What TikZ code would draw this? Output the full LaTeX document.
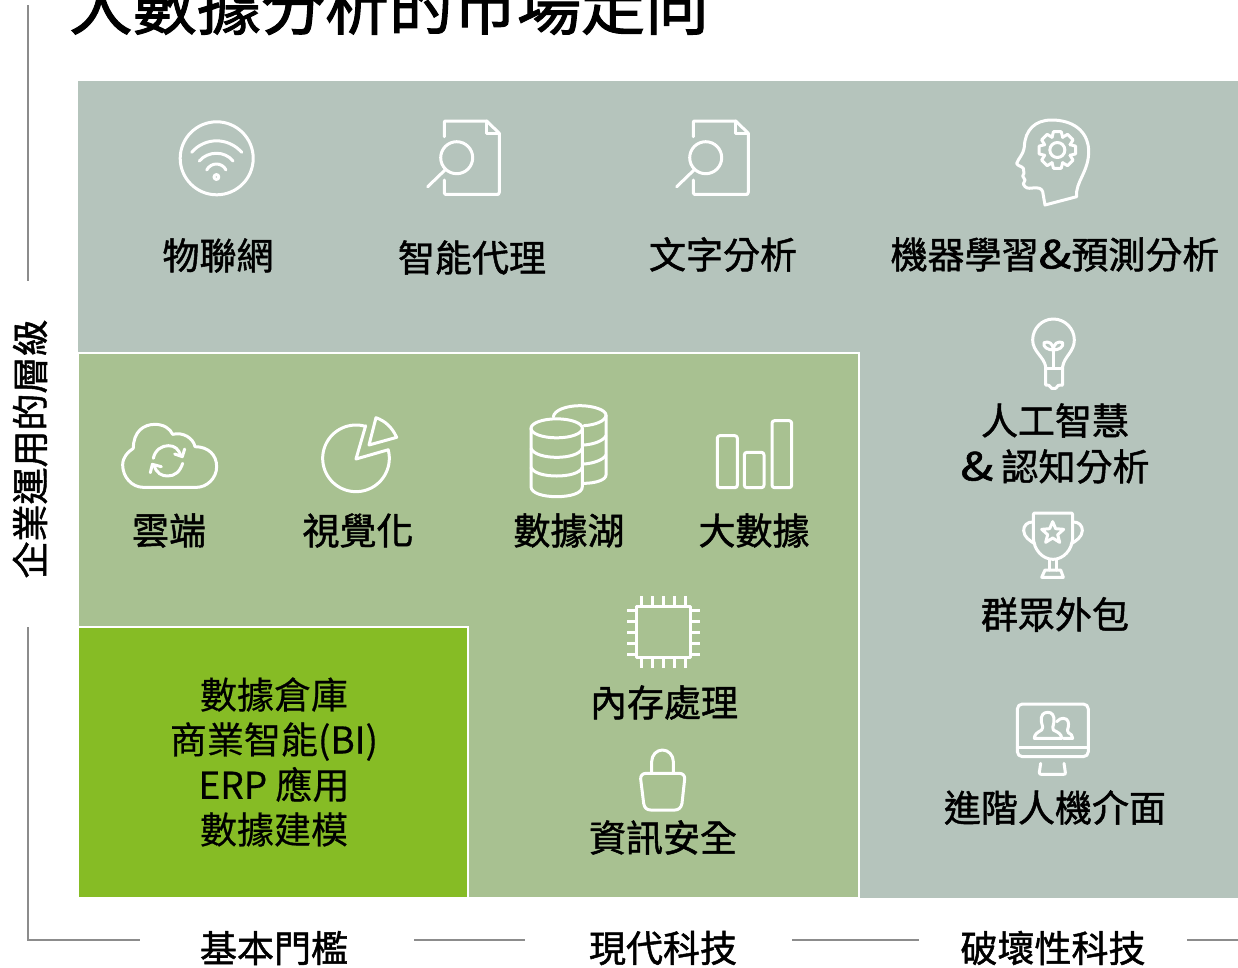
\documentclass[tikz,border=0pt]{standalone}
\usepackage{fontspec}
\setmainfont{Noto Sans CJK TC}
\newfontfamily\lblfont[FakeBold=1.3]{Noto Sans CJK TC}
\newfontfamily\ttlfont[FakeBold=1.6]{Noto Sans CJK TC}
\newfontfamily\plainfont[FakeBold=0.5]{Noto Sans CJK TC}
\newcommand{\wideamp}{\scalebox{1.3}[1.05]{\&}}
\definecolor{bgA}{HTML}{B5C4BC}
\definecolor{bgB}{HTML}{A8C191}
\definecolor{bgC}{HTML}{86BC25}
\definecolor{axisc}{HTML}{8C8C8C}
\tikzset{
  lbl/.style={inner sep=0pt,anchor=center,align=center,font=\lblfont\fontsize{37}{45}\selectfont,text=black},
  plain/.style={inner sep=0pt,anchor=center,align=center,font=\plainfont\fontsize{37}{45}\selectfont,text=black},
  ttl/.style={inner sep=0pt,anchor=center,font=\ttlfont\fontsize{64}{70}\selectfont,text=black},
  ico/.style={draw=white,line width=3pt,line join=round,line cap=round},
  axisl/.style={draw=axisc,line width=2.2pt},
  zm/.style={x=.33333pt,y=-.33333pt},
  docicon/.pic={
    \begin{scope}[ico]
    \draw (0,15.7) -- (0,1) -- (1,0) -- (42.4,0) -- (55,12.3) -- (55,71.5) -- (54,73.3) -- (1,73.3) -- (0,72) -- (0,59);
    \draw (42.4,0) -- (42.4,12.3) -- (55,12.3);
    \draw (12.4,36.7) circle[radius=16pt];
    \draw (0.7,49) -- (-16.6,65.7);
    \end{scope}
  }
}
\begin{document}
\begin{tikzpicture}[x=1pt,y=-1pt]
\useasboundingbox (0,0) rectangle (1238,967);
\fill[white] (0,0) rectangle (1238,967);
% panels
\fill[bgA] (78,81) rectangle (1238,898);
\draw[fill=bgB,draw=white,line width=2.4pt] (78,353) rectangle (859,898.5);
\draw[fill=bgC,draw=white,line width=2.4pt] (78,627) rectangle (468,898.5);
\fill[white] (76,890) rectangle (78,900);
\fill[white] (76,345) rectangle (78,900);
% title
\node[ttl] (title) at (389,5) {大數據分析的市場走向};
% axes
\coordinate (vtop) at (28,5);
\coordinate (vgap1) at (28,281);
\coordinate (vgap2) at (28,627);
\coordinate (corner) at (28,940);
\coordinate (h1) at (140,940);
\coordinate (h2a) at (414,940);
\coordinate (h2b) at (525,940);
\coordinate (h3a) at (792,940);
\coordinate (h3b) at (919,940);
\coordinate (h4a) at (1187,940);
\coordinate (h4b) at (1238,940);
\draw[axisl] (vtop) -- (vgap1);
\draw[axisl] (vgap2) -- (corner) -- (h1);
\draw[axisl] (h2a) -- (h2b);
\draw[axisl] (h3a) -- (h3b);
\draw[axisl] (h4a) -- (h4b);
\node[lbl,rotate=90] (yaxis) at (30,449) {企業運用的層級};
\node[lbl] (x1) at (274,948) {基本門檻};
\node[lbl] (x2) at (663,948) {現代科技};
\node[lbl] (x3) at (1053,948) {破壞性科技};
% labels
\node[lbl] (iot) at (218,255.5) {物聯網};
\node[lbl] (agent) at (472,257.5) {智能代理};
\node[lbl] (text) at (723,254.5) {文字分析};
\node[lbl] (ml) at (1055,254.5) {機器學習\wideamp 預測分析};
\node[lbl] (ai) at (1055,420.5) {人工智慧};
\node[lbl] (cog) at (1055,466.5) {\wideamp\ 認知分析};
\node[lbl] (crowd) at (1055,614.5) {群眾外包};
\node[lbl] (hci) at (1055,807.5) {進階人機介面};
\node[lbl] (cloud) at (169,530.5) {雲端};
\node[lbl] (vis) at (358,530.5) {視覺化};
\node[lbl] (lake) at (569,530.5) {數據湖};
\node[lbl] (big) at (754,530.5) {大數據};
\node[lbl] (mem) at (664,702.5) {內存處理};
\node[lbl] (sec) at (663,837.5) {資訊安全};
\node[plain] (dw) at (274,694.5) {數據倉庫};
\node[plain] (bi) at (274,741.5) {商業智能(BI)};
\node[plain] (erp) at (274,784.5) {ERP 應用};
\node[plain] (dm) at (274,829.5) {數據建模};
% wifi
\begin{scope}[ico]
\draw (216.7,158.3) circle[radius=36.5pt];
\draw (191.7,152.3) .. controls (205,137) and (228,137) .. (241.7,152.3);
\draw (199.3,161) .. controls (208,150.7) and (225,150.7) .. (233,161);
\draw (206.7,170) .. controls (211,162) and (222,162) .. (226,170);
\draw (216.4,177) circle[radius=2.4pt];
\end{scope}
% documents
\pic at (444.3,121) {docicon};
\pic at (693.3,121) {docicon};
% zoom frame 640,100 : head and bulb
\begin{scope}[shift={(640,100)},zm,ico]
\draw (1215,315) -- (1310,290) .. controls (1305,245) and (1348,215) .. (1346,150)
  .. controls (1343,90) and (1295,60) .. (1235,60) .. controls (1185,60) and (1155,90) .. (1153,140)
  .. controls (1150,165) and (1135,175) .. (1130,190) .. controls (1132,198) and (1145,198) .. (1150,205)
  -- (1152,220) -- (1148,228) -- (1155,240) -- (1150,252) .. controls (1155,265) and (1165,266) .. (1178,264)
  .. controls (1195,262) and (1205,265) .. (1208,275) -- cycle;
\foreach \a in {0,45,...,315}{
  \draw ([shift={(1252,150)}]\a-23:41) -- ([shift={(1252,150)}]\a-12:56) -- ([shift={(1252,150)}]\a+12:56) -- ([shift={(1252,150)}]\a+23:41);
}
\draw (1252,150) circle[radius=7.5pt];
% bulb
\draw (1217,800) .. controls (1212,770) and (1178,755) .. (1178,720) .. controls (1178,685) and (1206,657) .. (1240,657)
  .. controls (1274,657) and (1303,685) .. (1303,720) .. controls (1303,755) and (1272,770) .. (1268,800)
  -- (1268,855) -- (1255,856) -- (1247,865) -- (1235,865) -- (1227,856) -- (1217,855) -- cycle;
\draw (1217,805) -- (1268,805);
\draw (1240,803) -- (1240,748);
\draw (1240,750) .. controls (1225,750) and (1208,742) .. (1212,728) .. controls (1225,722) and (1240,730) .. (1240,750);
\draw (1240,750) .. controls (1255,750) and (1272,742) .. (1268,728) .. controls (1255,722) and (1240,730) .. (1240,750);
\end{scope}
% zoom frame 100,395 : cloud and pie
\begin{scope}[shift={(100,395)},zm,ico]
\draw (100,160) .. controls (100,110) and (130,88) .. (165,88) .. controls (190,88) and (210,100) .. (218,118)
  .. controls (250,110) and (280,130) .. (285,155) .. controls (325,155) and (350,180) .. (350,215)
  .. controls (350,250) and (320,277) .. (290,277) -- (130,277) .. controls (95,277) and (68,245) .. (68,210)
  .. controls (68,185) and (85,170) .. (100,160);
\draw (160,190) .. controls (165,165) and (185,152) .. (205,152) .. controls (225,152) and (235,162) .. (243,182);
\draw (254,162) -- (247,185) -- (224,177);
\draw (248,205) .. controls (240,230) and (225,243) .. (203,243) .. controls (185,243) and (170,235) .. (163,213);
\draw (151,233) -- (157,208) -- (184,215);
\draw (797,92) -- (768,192) -- (862,165) -- plot[domain=-15:286.5,samples=60,smooth] ({768+100*cos(\x)},{190+100*sin(\x)}) -- cycle;
\draw (828,68) -- (807,150) -- (890,127) .. controls (875,95) and (855,78) .. (828,68) -- cycle;
\end{scope}
% zoom frame 510,395 : databases and bars
\begin{scope}[shift={(510,395)},zm,ico]
\draw (140,100) circle[x radius=25.7pt,y radius=9.5pt];
\draw (63,100) -- (63,275) .. controls (63,295) and (100,305) .. (140,305) .. controls (180,305) and (217,295) .. (217,275) -- (217,100);
\draw (63,160) .. controls (70,178) and (105,187) .. (140,187) .. controls (175,187) and (210,178) .. (217,160);
\draw (63,217) .. controls (70,235) and (105,243) .. (140,243) .. controls (175,243) and (210,235) .. (217,217);
\draw (130,66) .. controls (132,45) and (170,32) .. (210,32) .. controls (250,32) and (288,45) .. (288,60) .. controls (288,78) and (255,90) .. (222,92);
\draw (288,60) -- (288,240) .. controls (288,255) and (255,265) .. (222,265);
\draw (222,150) .. controls (250,148) and (280,138) .. (288,122);
\draw (222,207) .. controls (250,205) and (280,195) .. (288,180);
\draw[rounded corners=2.5pt] (622,122) rectangle (682,278);
\draw[rounded corners=2.5pt] (703,172) rectangle (762,278);
\draw[rounded corners=2.5pt] (786,77) rectangle (845,278);
\end{scope}
% zoom frame 610,585 : chip and lock
\begin{scope}[shift={(610,585)},zm,ico]
\draw[line cap=butt] (80,63) rectangle (240,218);
\foreach \p in {95,127,160,192,225}{
  \draw[line cap=butt] (\p,33) -- (\p,63);
  \draw[line cap=butt] (\p,218) -- (\p,250);
}
\foreach \p in {77,110,143,176,208}{
  \draw[line cap=butt] (52,\p) -- (80,\p);
  \draw[line cap=butt] (240,\p) -- (270,\p);
}
\draw (125,565) -- (125,530) .. controls (125,510) and (140,495) .. (157,495) .. controls (175,495) and (190,510) .. (190,530) -- (190,565);
\draw (108,565) -- (208,565) .. controls (218,565) and (225,572) .. (224,582) -- (216,655)
  .. controls (214,668) and (205,675) .. (195,675) -- (122,675) .. controls (110,675) and (103,668) .. (101,655)
  -- (92,582) .. controls (91,572) and (98,565) .. (108,565) -- cycle;
\end{scope}
% zoom frame 1000,500 : trophy
\begin{scope}[shift={(1000,500)},zm,ico]
\draw (100,43) -- (100,115) .. controls (102,150) and (128,178) .. (159,178) .. controls (190,178) and (216,150) .. (218,115) -- (218,43) -- (215,39) -- (103,39) -- cycle;
\draw (100,66) .. controls (82,64) and (70,78) .. (71,92) .. controls (72,112) and (90,122) .. (105,132);
\draw (218,66) .. controls (236,64) and (248,78) .. (247,92) .. controls (246,112) and (228,122) .. (213,132);
\draw (158,65) -- (167,86) -- (191,88) -- (173,104) -- (179,127) -- (158,114) -- (137,127) -- (143,104) -- (125,88) -- (149,86) -- cycle;
\draw (147,178) -- (147,210);
\draw (170,178) -- (170,210);
\draw (135,210) -- (182,210) -- (190,232) -- (125,232) -- cycle;
\end{scope}
% zoom frame 1000,695 : monitor
\begin{scope}[shift={(1000,695)},zm,ico]
\draw[rounded corners=5pt] (52,27) rectangle (265,185);
\draw (52,157) -- (265,157);
\draw (122,205) -- (118,232) .. controls (118,237) and (120,238) .. (124,238) -- (190,238) .. controls (195,238) and (197,237) .. (196,232) -- (192,205);
\draw (124,80) .. controls (122,60) and (130,52) .. (143,52) .. controls (156,52) and (163,60) .. (162,80)
  .. controls (160,95) and (155,100) .. (160,105) .. controls (175,112) and (185,118) .. (185,130) -- (103,130)
  .. controls (103,118) and (112,112) .. (125,105) .. controls (132,100) and (127,95) .. (124,80) -- cycle;
\draw (170,80) .. controls (175,72) and (185,70) .. (190,70) .. controls (205,70) and (207,85) .. (205,95)
  .. controls (203,105) and (200,108) .. (205,113) .. controls (212,117) and (218,120) .. (218,130) -- (190,130);
\end{scope}
\end{tikzpicture}
\end{document}
